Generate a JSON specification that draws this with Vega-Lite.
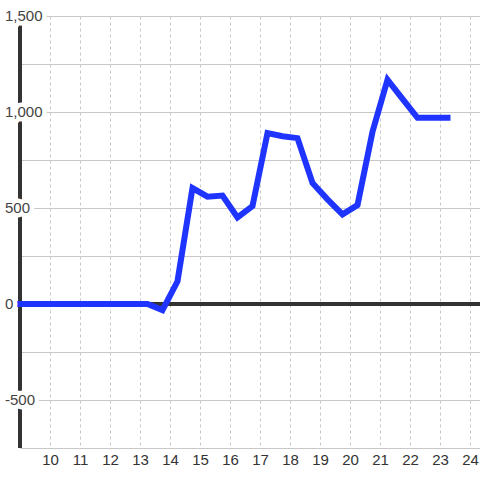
{
  "$schema": "https://vega.github.io/schema/vega-lite/v6.json",
  "width": 460,
  "height": 432,
  "autosize": {"type": "none"},
  "padding": {"left": 20, "top": 16, "right": 0, "bottom": 32},
  "background": "#ffffff",
  "config": {
    "view": {"stroke": null},
    "axisX": {
      "tickCount": 15,
      "tickMinStep": 1,
      "grid": true,
      "gridDash": [3, 3],
      "gridColor": "#c8c8c8",
      "domain": false,
      "ticks": false,
      "tickSize": 0,
      "labelPadding": 4,
      "labelFontSize": 15,
      "labelFont": "Liberation Sans",
      "labelColor": "#333333",
      "labelFlush": false,
      "labelOverlap": false,
      "labelBound": false,
      "title": null
    },
    "axisY": {
      "grid": true,
      "gridColor": "#c8c8c8",
      "domain": false,
      "ticks": false,
      "tickSize": 0,
      "labels": false,
      "title": null
    }
  },
  "datasets": {
    "series": [
      {"x": 9, "y": 0},
      {"x": 9.25, "y": 0},
      {"x": 9.75, "y": 0},
      {"x": 10.25, "y": 0},
      {"x": 10.75, "y": 0},
      {"x": 11.25, "y": 0},
      {"x": 11.75, "y": 0},
      {"x": 12.25, "y": 0},
      {"x": 12.75, "y": 0},
      {"x": 13.25, "y": 0},
      {"x": 13.75, "y": -32},
      {"x": 14.25, "y": 118},
      {"x": 14.75, "y": 604},
      {"x": 15.25, "y": 559},
      {"x": 15.75, "y": 565},
      {"x": 16.25, "y": 451},
      {"x": 16.75, "y": 510},
      {"x": 17.25, "y": 890},
      {"x": 17.75, "y": 874},
      {"x": 18.25, "y": 864},
      {"x": 18.75, "y": 630},
      {"x": 19.25, "y": 545},
      {"x": 19.75, "y": 467},
      {"x": 20.25, "y": 515},
      {"x": 20.75, "y": 897},
      {"x": 21.25, "y": 1168},
      {"x": 21.75, "y": 1068},
      {"x": 22.25, "y": 970},
      {"x": 22.75, "y": 970},
      {"x": 23.25, "y": 970}
    ],
    "ylabels": [
      {"v": 1500, "t": "1,500"},
      {"v": 1000, "t": "1,000"},
      {"v": 500, "t": "500"},
      {"v": 0, "t": "0"},
      {"v": -500, "t": "-500"}
    ]
  },
  "layer": [
    {
      "data": {"name": "series"},
      "mark": {"type": "rule", "color": "#333333", "strokeWidth": 3},
      "encoding": {"y": {"datum": 0, "type": "quantitative", "axis": {"values": [-750, -500, -250, 0, 250, 500, 750, 1000, 1250, 1500]}}}
    },
    {
      "data": {"name": "series"},
      "mark": {"type": "rule", "color": "#333333", "strokeWidth": 3},
      "encoding": {
        "x": {"datum": 9, "type": "quantitative"},
        "y": {"datum": -750, "type": "quantitative", "axis": {"values": [-750, -500, -250, 0, 250, 500, 750, 1000, 1250, 1500]}},
        "y2": {"datum": 1458}
      }
    },
    {
      "data": {"name": "series"},
      "mark": {"type": "line", "color": "#1f35ff", "strokeWidth": 6, "strokeCap": "square", "strokeJoin": "miter"},
      "encoding": {
        "x": {
          "field": "x",
          "type": "quantitative",
          "scale": {"domain": [9.001, 24.333], "nice": false, "zero": false}
        },
        "y": {
          "field": "y",
          "type": "quantitative",
          "scale": {"domain": [-750, 1500], "nice": false, "zero": false},
          "axis": {"values": [-750, -500, -250, 0, 250, 500, 750, 1000, 1250, 1500]}
        }
      }
    },
    {
      "data": {"name": "ylabels"},
      "mark": {"type": "text", "align": "left", "baseline": "middle", "dx": -15, "font": "Liberation Sans", "fontSize": 15, "fill": "#ffffff", "stroke": "#ffffff", "strokeWidth": 9, "strokeJoin": "round"},
      "encoding": {
        "x": {"datum": 9, "type": "quantitative"},
        "y": {"field": "v", "type": "quantitative", "axis": {"values": [-750, -500, -250, 0, 250, 500, 750, 1000, 1250, 1500]}},
        "text": {"field": "t"}
      }
    },
    {
      "data": {"name": "ylabels"},
      "mark": {"type": "text", "align": "left", "baseline": "middle", "dx": -15, "font": "Liberation Sans", "fontSize": 15, "fill": "#444444"},
      "encoding": {
        "x": {"datum": 9, "type": "quantitative"},
        "y": {"field": "v", "type": "quantitative", "axis": {"values": [-750, -500, -250, 0, 250, 500, 750, 1000, 1250, 1500]}},
        "text": {"field": "t"}
      }
    }
  ]
}
